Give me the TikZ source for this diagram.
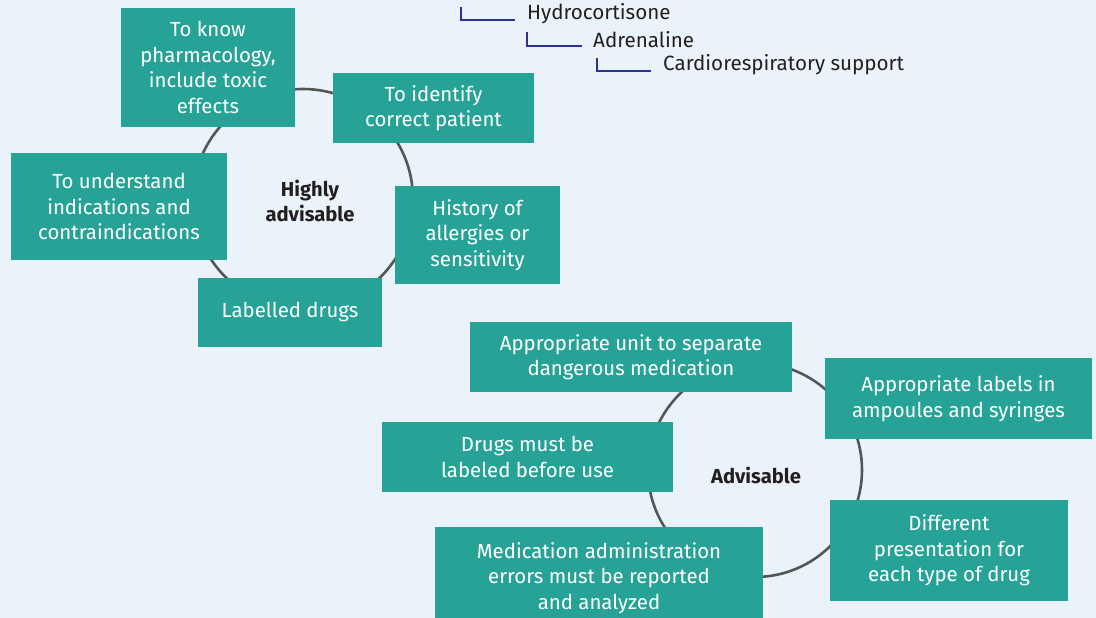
\documentclass[tikz,border=0pt]{standalone}
\usepackage{fontspec}
\setmainfont{Fira Sans}
\definecolor{bgc}{HTML}{EAF3F9}
\definecolor{teal}{HTML}{26A396}
\definecolor{ringc}{HTML}{555555}
\definecolor{navy}{HTML}{2E3192}
\definecolor{txt}{HTML}{231F20}
\tikzset{
  box/.style={fill=teal, text=white, inner sep=0pt, align=center,
    font=\fontsize{20.4}{25.5}\selectfont},
  ring/.style={draw=ringc, line width=2.6pt},
  hub/.style={text=txt, align=center, font=\fontsize{20.2}{25}\selectfont\bfseries},
  leaf/.style={text=txt, anchor=west, inner sep=0pt, font=\fontsize{20.6}{23}\selectfont},
  tree/.style={draw=navy, line width=1.4pt}
}
\begin{document}
\begin{tikzpicture}[x=1pt,y=-1pt]
\fill[bgc] (0,0) rectangle (1096,618);
\useasboundingbox (0,0) rectangle (1096,618);
\clip (0,0) rectangle (1096,618);
% rings
\draw[ring] (303,199) circle (110);
\draw[ring] (755,470) circle (107);
% hubs
\node[hub] (h1) at (310,201) {Highly\\advisable};
\node[hub] (h2) at (756,475) {Advisable};
% top cluster
\node[box, minimum width=174pt, minimum height=119pt] (b1) at (208,67.5) {To know\\pharmacology,\\include toxic\\effects};
\node[box, minimum width=201pt, minimum height=70pt] (b2) at (433.5,108) {To identify\\correct patient};
\node[box, minimum width=216pt, minimum height=107pt] (b3) at (119,206.5) {To understand\\indications and\\contraindications};
\node[box, minimum width=165pt, minimum height=98pt] (b4) at (477.5,235) {History of\\allergies or\\sensitivity};
\node[box, minimum width=184pt, minimum height=69pt] (b5) at (290,312.5) {Labelled drugs};
% bottom cluster
\node[box, minimum width=322pt, minimum height=70pt] (b6) at (631,357) {Appropriate unit to separate\\dangerous medication};
\node[box, minimum width=267pt, minimum height=81pt] (b7) at (958.5,398.5) {Appropriate labels in\\ampoules and syringes};
\node[box, minimum width=291pt, minimum height=70pt] (b8) at (527.5,457) {Drugs must be\\labeled before use};
\node[box, minimum width=238pt, minimum height=101pt] (b9) at (949,550.5) {Different\\presentation for\\each type of drug};
\node[box, minimum width=328pt, minimum height=103pt, anchor=north] (b10) at (599,527) {};
\node[box, fill=none, anchor=center] (t10) at (599,578) {Medication administration\\errors must be reported\\and analyzed};
% legend tree
\node[leaf] (l1) at (527,14) {Hydrocortisone};
\node[leaf] (l2) at (593,40) {Adrenaline};
\node[leaf] (l3) at (663,65) {Cardiorespiratory support};
\coordinate (a1) at (461,7);
\coordinate (a2) at (527,32);
\coordinate (a3) at (597,58);
\draw[tree] (a1) |- ([xshift=-12pt,yshift=-6pt]l1.west);
\draw[tree] (a2) |- ([xshift=-11pt,yshift=-6pt]l2.west);
\draw[tree] (a3) |- ([xshift=-12pt,yshift=-6pt]l3.west);
\end{tikzpicture}
\end{document}
